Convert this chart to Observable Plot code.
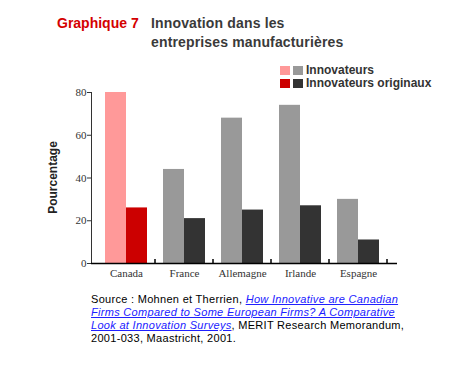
<!DOCTYPE html>
<html><head><meta charset="utf-8">
<script src="https://cdn.jsdelivr.net/npm/d3@7"></script>
<script src="https://cdn.jsdelivr.net/npm/@observablehq/plot@0.6"></script>
<style>
body{margin:0;background:#fff;}
#wrap{position:relative;width:450px;height:368px;overflow:hidden;font-family:"Liberation Sans",Arial,sans-serif;}
#wrap svg{position:absolute;left:0;top:0;}
.t{position:absolute;font-weight:bold;font-size:14px;line-height:19px;white-space:nowrap;}
#t1{left:57px;top:14px;color:#d40000;}
#t2{left:151px;top:14px;color:#3a3a3a;letter-spacing:0.15px;}
.leg{position:absolute;left:280px;font-size:12px;font-weight:bold;color:#333;white-space:nowrap;line-height:13px;}
.sw{display:inline-block;width:10px;height:9px;margin-right:3px;vertical-align:-1px;}
#src{position:absolute;left:91px;top:293px;font-size:11px;line-height:13px;letter-spacing:0.3px;color:#000;white-space:nowrap;}
#src a{color:#2020ff;font-style:italic;text-decoration:underline;}
</style></head>
<body><div id="wrap">
<div class="t" id="t1"></div>
<div class="t" id="t2"></div>
<div class="leg" id="l1" style="top:64px"></div>
<div class="leg" id="l2" style="top:77px"></div>
<div id="src"></div>
</div>
<script>
const titleLabel = "Graphique 7";
const titleLines = ["Innovation dans les", "entreprises manufacturières"];
const yLabel = "Pourcentage";
const countries = ["Canada", "France", "Allemagne", "Irlande", "Espagne"];
const innovateurs = [80, 44, 68, 74, 30];
const originaux = [26, 21, 25, 27, 11];
const yTicks = [0, 20, 40, 60, 80];
const seriesNames = ["Innovateurs", "Innovateurs originaux"];
const sourceParts = ["Source : Mohnen et Therrien, ", "How Innovative are Canadian", "Firms Compared to Some European Firms? A Comparative", "Look at Innovation Surveys", ", MERIT Research Memorandum,", "2001-033, Maastricht, 2001."];

const colors = {
  highlight: ["#ff9999", "#cc0000"],
  normal: ["#999999", "#333333"]
};
const pal = c => c === "Canada" ? colors.highlight : colors.normal;

const data = countries.map((c, i) => ({country: c, innov: innovateurs[i], orig: originaux[i]}));

const plot = Plot.plot({
  width: 450, height: 368,
  marginLeft: 91, marginRight: 53, marginTop: 92, marginBottom: 105,
  style: {background: "transparent", fontFamily: "'Liberation Serif', serif", fontSize: "11px", color: "#333"},
  x: {domain: countries, insetLeft: 6, insetRight: 10, padding: 0, tickSize: 0, tickPadding: 6, label: null},
  y: {domain: [0, 80], ticks: yTicks, tickSize: 4, tickPadding: 1, label: null, line: true},
  color: {type: "identity"},
  marks: [
    Plot.barY(data, {x: "country", y: "innov", fill: d => pal(d.country)[0], insetLeft: 8, insetRight: 29}),
    Plot.barY(data, {x: "country", y: "orig", fill: d => pal(d.country)[1], insetLeft: 29, insetRight: 8}),
    Plot.ruleY([0], {stroke: "#000", strokeWidth: 1.5})
  ]
});
document.getElementById("wrap").appendChild(plot);

const svg = d3.select(plot);
svg.selectAll('g[aria-label="x-axis"] text').style("font-size", "12px").attr("fill", "#333");
svg.selectAll('g[aria-label="y-axis"] text').attr("fill", "#444");
svg.selectAll('g[aria-label="y-axis"] path').attr("stroke", "#000").attr("stroke-width", 1.5);

const xs = plot.scale("x"), ys = plot.scale("y");
const y0 = ys.apply(0);
svg.append("g").selectAll("line").data(countries).join("line")
  .attr("x1", c => xs.apply(c) + xs.bandwidth).attr("x2", c => xs.apply(c) + xs.bandwidth)
  .attr("y1", y0).attr("y2", y0 - 4).attr("stroke", "#000").attr("stroke-width", 1.5);

svg.append("text").text(yLabel)
  .attr("transform", `translate(57,${(ys.apply(0) + ys.apply(80)) / 2}) rotate(-90)`)
  .attr("text-anchor", "middle")
  .style("font-family", "'Liberation Sans', Arial, sans-serif")
  .style("font-size", "12px").style("font-weight", "bold").attr("fill", "#222");

document.getElementById("t1").textContent = titleLabel;
document.getElementById("t2").innerHTML = titleLines.join("<br>");
document.getElementById("l1").innerHTML = `<span class="sw" style="background:${colors.highlight[0]}"></span><span class="sw" style="background:${colors.normal[0]}"></span>${seriesNames[0]}`;
document.getElementById("l2").innerHTML = `<span class="sw" style="background:${colors.highlight[1]}"></span><span class="sw" style="background:${colors.normal[1]}"></span>${seriesNames[1]}`;
const src = document.getElementById("src");
src.innerHTML = `${sourceParts[0]}<a>${sourceParts[1]}<br>${sourceParts[2]}<br>${sourceParts[3]}</a>${sourceParts[4]}<br>${sourceParts[5]}`;
</script>
</body></html>
